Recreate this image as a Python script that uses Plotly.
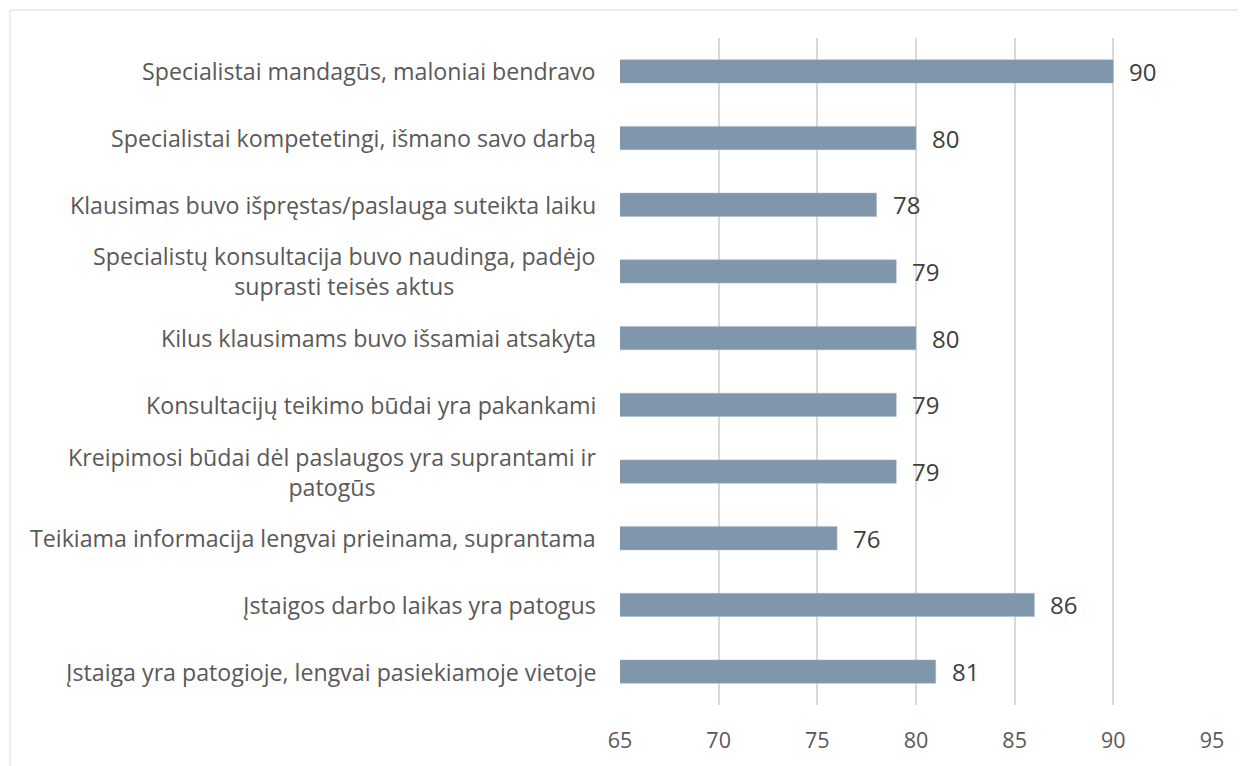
import plotly.graph_objects as go

categories = [
    "Specialistai mandagūs, maloniai bendravo",
    "Specialistai kompetetingi, išmano savo darbą",
    "Klausimas buvo išpręstas/paslauga suteikta laiku",
    "Specialistų konsultacija buvo naudinga, padėjo<br>suprasti teisės aktus",
    "Kilus klausimams buvo išsamiai atsakyta",
    "Konsultacijų teikimo būdai yra pakankami",
    "Kreipimosi būdai dėl paslaugos yra suprantami ir<br>patogūs",
    "Teikiama informacija lengvai prieinama, suprantama",
    "Įstaigos darbo laikas yra patogus",
    "Įstaiga yra patogioje, lengvai pasiekiamoje vietoje",
]
values = [90, 80, 78, 79, 80, 79, 79, 76, 86, 81]
x_ticks = [65, 70, 75, 80, 85, 90, 95]

FONT = "Open Sans"
fig = go.Figure()
fig.add_trace(go.Bar(
    y=categories, x=values, orientation="h", width=0.35,
    marker=dict(color="#7f96ab", line=dict(color="#a9b8c7", width=0.5)),
    hoverinfo="x+y",
))

anns = []
for c, v in zip(categories, values):
    anns.append(dict(x=v, y=c, xref="x", yref="y", text=str(v), showarrow=False,
                     xanchor="left", xshift=14, font=dict(family=FONT, size=24, color="#404040")))
    anns.append(dict(x=0, y=c, xref="paper", yref="y", text=c, showarrow=False,
                     xanchor="right", xshift=-22, align="center",
                     font=dict(family=FONT, size=23.2, color="#595959")))

# the page body adds an 8px offset; the figure is sized to compensate
fig.update_layout(
    width=1238, height=758,
    margin=dict(l=612, r=34, t=30, b=52),
    paper_bgcolor="white", plot_bgcolor="white",
    showlegend=False,
    annotations=anns,
    shapes=[dict(type="rect", xref="paper", yref="paper",
                 x0=(10 - 620) / 592, x1=(1260 - 620) / 592,
                 y0=(706 - 780) / 668, y1=(706 - 10) / 668,
                 line=dict(color="#d9d9d9", width=1), layer="below")],
    xaxis=dict(range=[65, 95], tickvals=x_ticks, showgrid=True, gridcolor="#d9d9d9",
               gridwidth=1.5, zeroline=False, showline=False, ticks="",
               ticklabelstandoff=20,
               tickfont=dict(family=FONT, size=21.5, color="#595959")),
    yaxis=dict(autorange="reversed", showticklabels=False, showgrid=False,
               zeroline=False, showline=False, ticks=""),
)
fig.write_html("out.html")
